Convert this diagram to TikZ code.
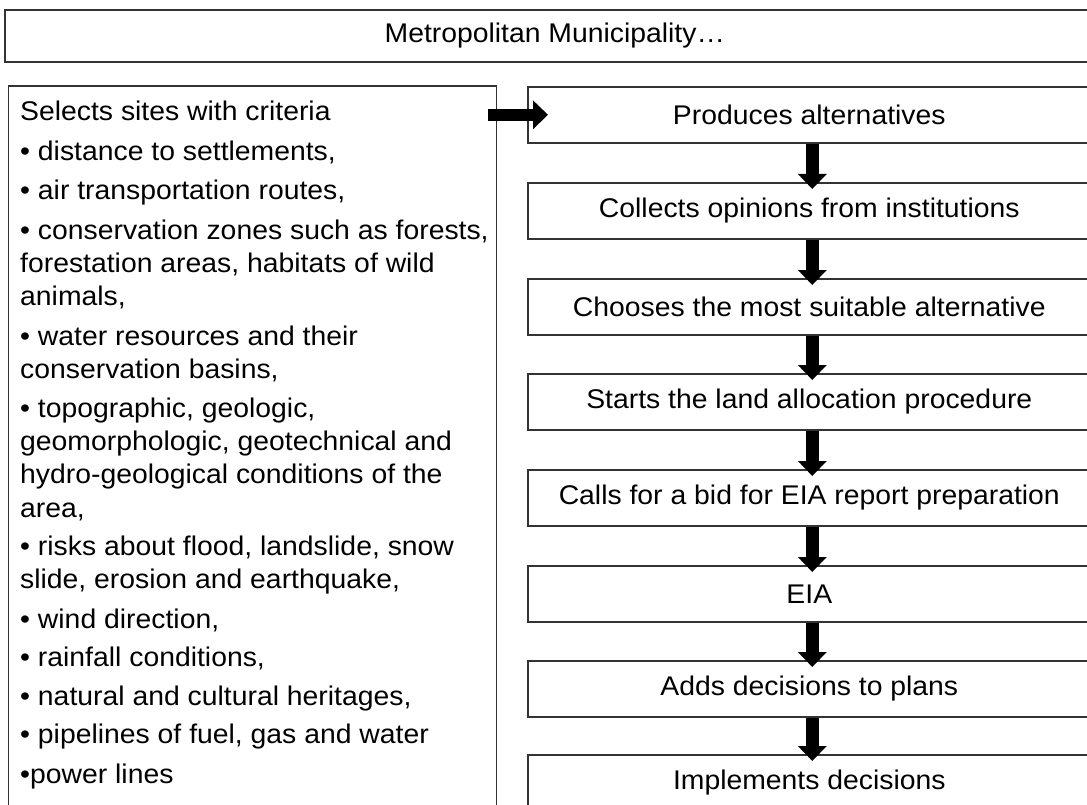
\documentclass[tikz,border=0pt]{standalone}
\usepackage{fontspec}
\setmainfont{Liberation Sans}[FakeStretch=1.05]
\usetikzlibrary{arrows.meta}
\begin{document}
\begin{tikzpicture}[x=1pt,y=-1pt,
  box/.style={draw=black!80, line width=1.6pt, rectangle, inner sep=0pt, anchor=north west},
  rbox/.style={box, minimum width=563pt, minimum height=56pt, font=\fontsize{27}{33}\selectfont},
  arr/.style={line width=12.5pt, -{Triangle[width=28pt,length=15pt]}, black}
]
\useasboundingbox[clip] (0,0) rectangle (1087,805);
\fill[white] (0,0) rectangle (1087,805);
\node[box, minimum width=1100pt, minimum height=52pt, font=\fontsize{27}{33}\selectfont] (top) at (4,9) {Metropolitan Municipality…};
\node[box, minimum width=488pt, minimum height=740pt] (lbox) at (7.5,85) {};
\node[anchor=north west, inner sep=0pt, align=left, font=\fontsize{27}{33.3}\selectfont] (ltext) at (20,101)
{Selects sites with criteria\\[6.5pt]
• distance to settlements,\\[6pt]
• air transportation routes,\\[6pt]
• conservation zones such as forests,\\
forestation areas, habitats of wild\\
animals,\\[6.5pt]
• water resources and their\\
conservation basins,\\[5pt]
• topographic, geologic,\\
geomorphologic, geotechnical and\\
hydro-geological conditions of the\\
area,\\[5pt]
• risks about flood, landslide, snow\\
slide, erosion and earthquake,\\[6.5pt]
• wind direction,\\[4.5pt]
• rainfall conditions,\\[5.5pt]
• natural and cultural heritages,\\[5.5pt]
• pipelines of fuel, gas and water\\[6.5pt]
•power lines};
\node[rbox] (r1) at (527,86) {Produces alternatives};
\node[rbox] (r2) at (527,182) {Collects opinions from institutions};
\node[rbox] (r3) at (527,278) {Chooses the most suitable alternative};
\node[rbox] (r4) at (527,373) {Starts the land allocation procedure};
\node[rbox] (r5) at (527,469) {Calls for a bid for EIA report preparation};
\node[rbox] (r6) at (527,565) {EIA};
\node[rbox] (r7) at (527,660) {Adds decisions to plans};
\node[rbox] (r8) at (527,754) {Implements decisions};
\draw[arr] ([xshift=-9pt]lbox.east |- r1.center) -- ([xshift=21pt]r1.west);
\foreach \a/\b in {r1/r2,r2/r3,r3/r4,r4/r5,r5/r6,r6/r7,r7/r8}
  \draw[arr] ([xshift=3pt]\a.south) -- ([xshift=3pt,yshift=-7pt]\b.north);
\end{tikzpicture}
\end{document}
